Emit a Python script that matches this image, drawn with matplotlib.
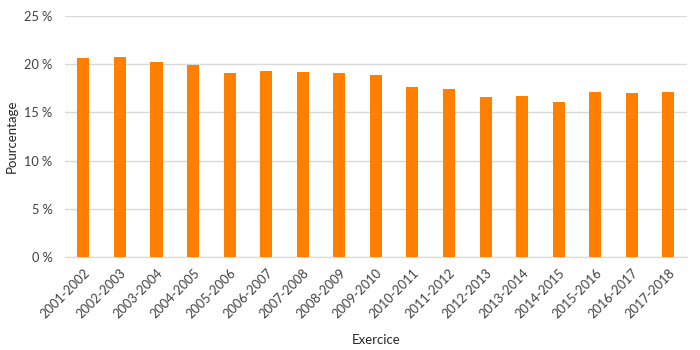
import matplotlib
matplotlib.use("Agg")
import matplotlib.pyplot as plt
from matplotlib.ticker import FuncFormatter, MultipleLocator

plt.rcParams['font.family'] = ['Lato', 'DejaVu Sans']

exercices = ["2001-2002", "2002-2003", "2003-2004", "2004-2005", "2005-2006",
             "2006-2007", "2007-2008", "2008-2009", "2009-2010", "2010-2011",
             "2011-2012", "2012-2013", "2013-2014", "2014-2015", "2015-2016",
             "2016-2017", "2017-2018"]
pourcentages = [20.7, 20.8, 20.2, 19.9, 19.1, 19.3, 19.2, 19.1, 18.9, 17.6,
                17.4, 16.6, 16.7, 16.1, 17.1, 17.0, 17.1]

fig = plt.figure(figsize=(7, 3.5), dpi=100)
ax = fig.add_axes([0.093, 0.266, 0.888, 0.688])

x = range(len(exercices))
ax.bar(x, pourcentages, width=0.33, color="#FF7F00", zorder=3)

ax.set_xlim(-0.5, len(exercices) - 0.5)
ax.set_ylim(0, 25)
ax.yaxis.set_major_locator(MultipleLocator(5))
ax.yaxis.set_major_formatter(FuncFormatter(lambda v, p: f"{v:.0f} %"))
ax.grid(axis="y", color="#D9D9D9", linewidth=1, zorder=0)

for s in ["top", "right", "left"]:
    ax.spines[s].set_visible(False)
ax.spines["bottom"].set_color("#D9D9D9")

ax.set_xticks(list(x))
ax.set_xticklabels(exercices, rotation=45, ha="right", rotation_mode="anchor")
ax.tick_params(axis="both", length=0, labelsize=9.2, colors="#404040")
ax.tick_params(axis="x", pad=7)
ax.tick_params(axis="y", pad=9)

ax.set_xlabel("Exercice", fontsize=9.5, color="#262626", labelpad=10)
ax.set_ylabel("Pourcentage", fontsize=9.5, color="#262626", labelpad=5)

fig.savefig("out.png", dpi=100, facecolor="white")
